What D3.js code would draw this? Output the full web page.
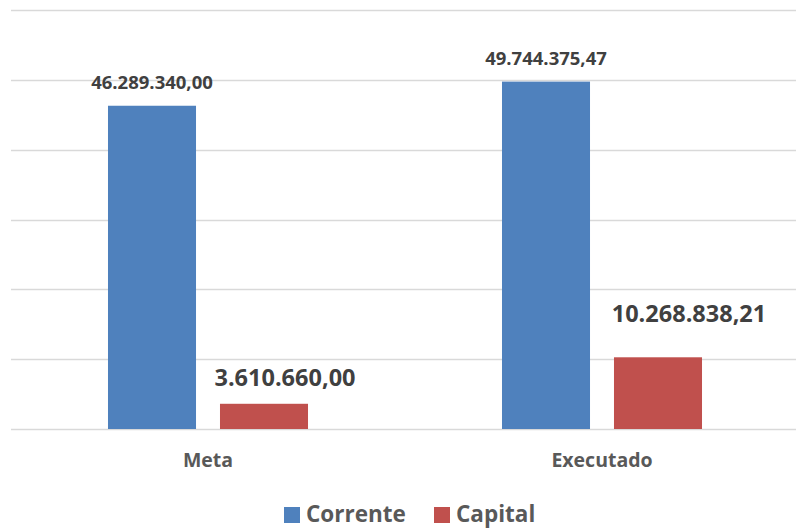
<!DOCTYPE html>
<html>
<head>
<meta charset="utf-8">
<script src="https://cdn.jsdelivr.net/npm/d3@7"></script>
<style>
  body { margin: 0; background: #fff; }
  text { font-family: "Open Sans", sans-serif; font-weight: bold; }
</style>
</head>
<body>
<div id="chart"></div>
<script>
// data
var categories = ["Meta", "Executado"];
var seriesNames = ["Corrente", "Capital"];
var corrente = [46289340.00, 49744375.47];
var capital = [3610660.00, 10268838.21];
var yTicks = [0, 10000000, 20000000, 30000000, 40000000, 50000000, 60000000];

var w = 796, h = 529;
var colors = { Corrente: "#4f81bd", Capital: "#c0504d" };

// the capital labels were moved by hand in the original, per category
var capLabelDx = [21, 31];
var capLabelDy = [-18, -35];

var rows = categories.map(function(c, i) {
  return { cat: c, idx: i, Corrente: corrente[i], Capital: capital[i] };
});

var svg = d3.select("#chart").append("svg")
  .attr("width", w)
  .attr("height", h);

// scales
var x0 = d3.scaleBand()
  .domain(categories)
  .range([11, 799])
  .padding(0);

var x1 = d3.scaleBand()
  .domain(seriesNames)
  .range([0, x0.bandwidth()])
  .paddingInner(0.214)
  .paddingOuter(0.866);

var y = d3.scaleLinear()
  .domain([0, 60000000])
  .range([429, 10]);

// gridlines
svg.append("g")
  .selectAll("line")
  .data(yTicks)
  .enter()
  .append("line")
  .attr("x1", 11)
  .attr("x2", w)
  .attr("y1", function(d) { return Math.round(y(d)) + 0.5; })
  .attr("y2", function(d) { return Math.round(y(d)) + 0.5; })
  .style("stroke", "#d9d9d9")
  .style("stroke-width", 1.5);

// bars
var groups = svg.append("g")
  .selectAll("g")
  .data(rows)
  .enter()
  .append("g")
  .attr("transform", function(d) { return "translate(" + x0(d.cat) + ",0)"; });

function split(d) {
  return seriesNames.map(function(s) { return { key: s, value: d[s], idx: d.idx }; });
}

groups.selectAll("rect")
  .data(split)
  .enter()
  .append("rect")
  .attr("x", function(d) { return x1(d.key); })
  .attr("y", function(d) { return y(d.value); })
  .attr("width", x1.bandwidth())
  .attr("height", function(d) { return y(0) - y(d.value); })
  .style("fill", function(d) { return colors[d.key]; });

// value labels, pt-BR style numbers
function fmt(v) {
  var parts = v.toFixed(2).split(".");
  return parts[0].replace(/\B(?=(\d{3})+(?!\d))/g, ".") + "," + parts[1];
}

groups.selectAll(".lbl")
  .data(split)
  .enter()
  .append("text")
  .attr("class", "lbl")
  .attr("x", function(d) {
    return x1(d.key) + x1.bandwidth() / 2 + (d.key == "Capital" ? capLabelDx[d.idx] : 0);
  })
  .attr("y", function(d) {
    return y(d.value) + (d.key == "Corrente" ? -17 : capLabelDy[d.idx]);
  })
  .attr("text-anchor", "middle")
  .style("font-size", function(d) { return d.key == "Corrente" ? "18.5px" : "23.5px"; })
  .style("fill", "#404040")
  .text(function(d) { return fmt(d.value); });

// category labels
svg.append("g")
  .selectAll("text")
  .data(categories)
  .enter()
  .append("text")
  .attr("x", function(d) { return x0(d) + x0.bandwidth() / 2; })
  .attr("y", 467)
  .attr("text-anchor", "middle")
  .style("font-size", "19.5px")
  .style("fill", "#595959")
  .text(function(d) { return d; });

// legend
var legendX = [284, 434];
var legend = svg.append("g")
  .selectAll("g")
  .data(seriesNames)
  .enter()
  .append("g")
  .attr("transform", function(d, i) { return "translate(" + legendX[i] + ",507)"; });

legend.append("rect")
  .attr("width", 16)
  .attr("height", 16)
  .style("fill", function(d) { return colors[d]; });

legend.append("text")
  .attr("x", 22)
  .attr("y", 15)
  .style("font-size", "22.5px")
  .style("fill", "#595959")
  .text(function(d) { return d; });
</script>
</body>
</html>
